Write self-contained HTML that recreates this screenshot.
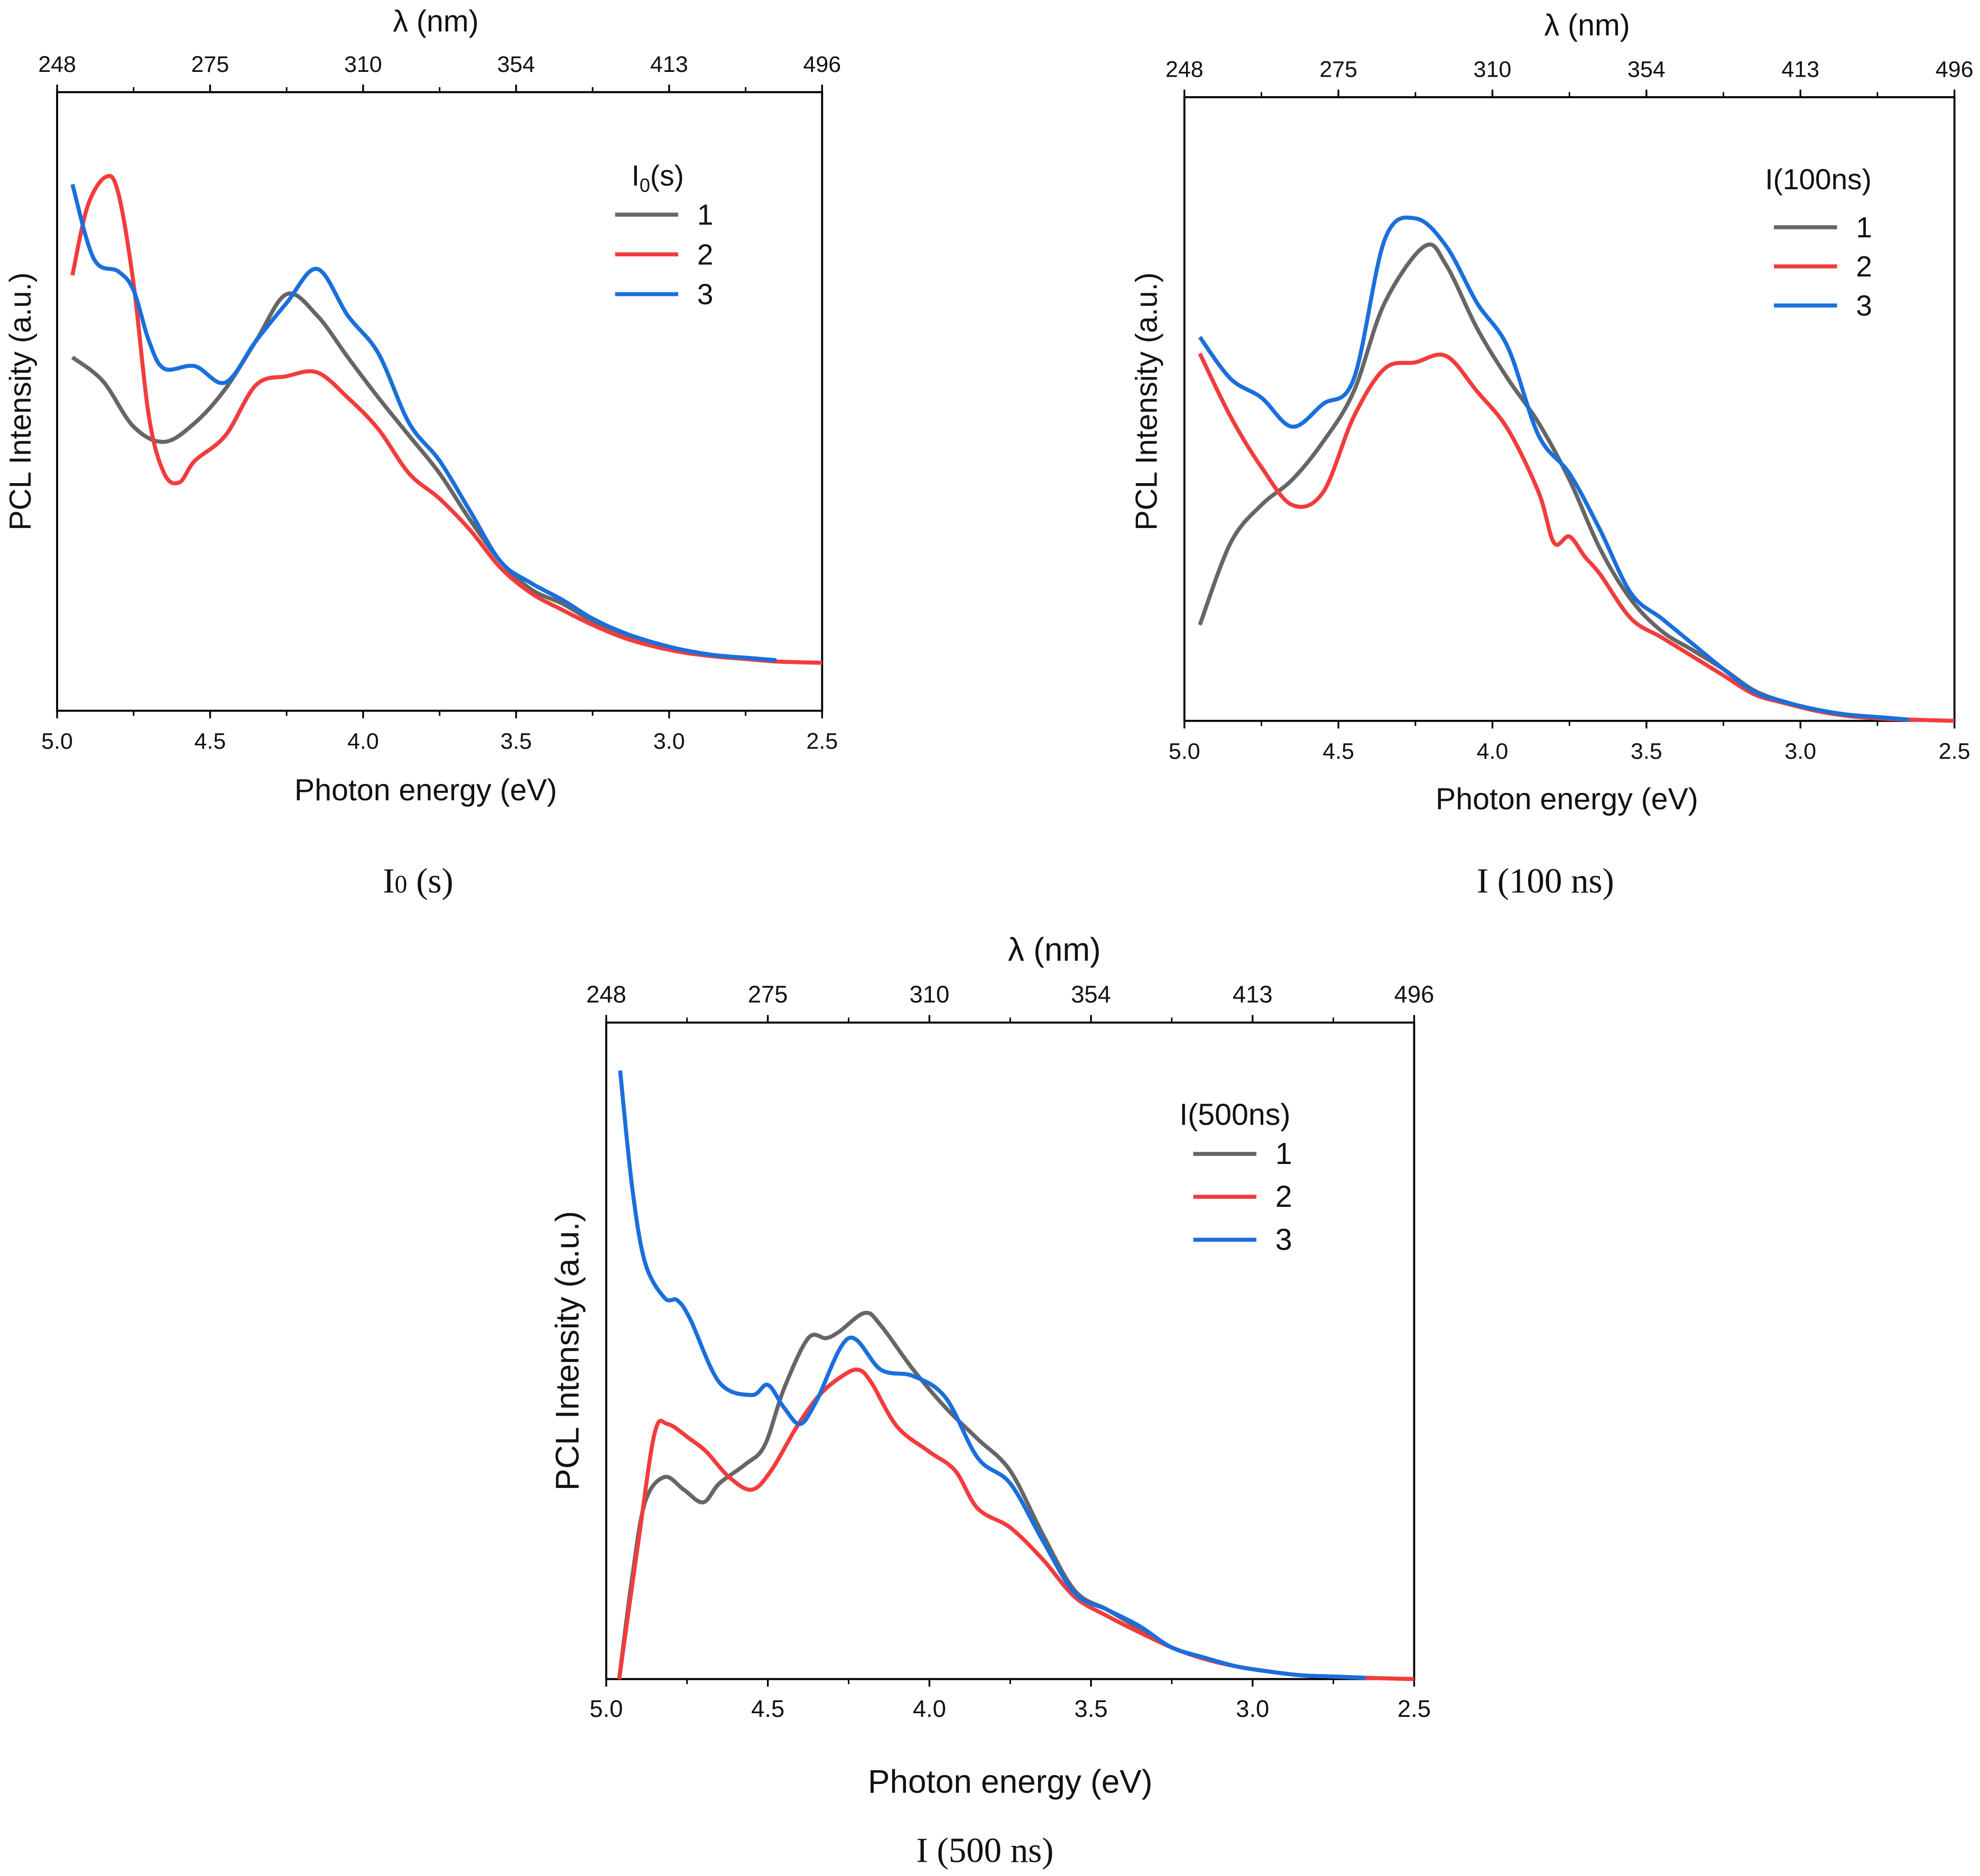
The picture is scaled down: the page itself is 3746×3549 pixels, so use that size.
<!DOCTYPE html>
<html><head><meta charset="utf-8"><style>
html,body{margin:0;padding:0;background:#fff}
svg{display:block}
text{font-family:"Liberation Sans",sans-serif;fill:#111}
.cap{font-family:"Liberation Serif",serif;font-size:28px}
</style></head><body>
<svg id="chart" width="3746" height="3549" viewBox="0 0 1568 1486" xmlns="http://www.w3.org/2000/svg"></svg>
<script>
// Panel A: I0(s)
const aGrayE=[4.95,4.85,4.75,4.65,4.55,4.45,4.35,4.25,4.15,4.05,3.95,3.85,3.75,3.65,3.55,3.45,3.35,3.25,3.15,3.05,2.95,2.85,2.75,2.65];
const aGrayV=[280,261,225,213,228,255,293,330,313,280,248,218,188,151,118,96,85,71,60,53,48,44,42,40];
const aRedE=[4.95,4.90,4.84,4.80,4.75,4.70,4.65,4.60,4.55,4.45,4.35,4.25,4.15,4.05,3.95,3.85,3.75,3.65,3.55,3.45,3.35,3.25,3.15,3.05,2.95,2.85,2.75,2.65,2.5];
const aRedV=[345,400,423,410,338,233,188,181,198,218,258,265,268,248,223,188,168,143,113,93,80,68,58,51,46,43,41,39,38];
const aBlueE=[4.95,4.88,4.80,4.75,4.70,4.65,4.55,4.45,4.35,4.25,4.15,4.05,3.95,3.85,3.75,3.65,3.55,3.45,3.35,3.25,3.15,3.05,2.95,2.85,2.75,2.65];
const aBlueV=[417,358,348,333,293,271,273,260,293,323,350,313,283,228,198,158,118,101,88,73,62,54,48,44,42,40];
// Panel B: I(100ns)
const bGrayE=[4.95,4.85,4.75,4.65,4.55,4.45,4.35,4.22,4.15,4.05,3.95,3.85,3.75,3.65,3.55,3.45,3.35,3.25,3.15,3.05,2.95,2.85,2.75,2.65];
const bGrayV=[76,141,171,191,221,261,331,376,361,311,271,236,191,136,96,71,56,41,24,15,9,5,3,1];
const bRedE=[4.95,4.85,4.75,4.65,4.55,4.45,4.35,4.25,4.15,4.05,3.95,3.85,3.80,3.75,3.70,3.65,3.55,3.45,3.35,3.25,3.15,3.05,2.95,2.85,2.75,2.65,2.5];
const bRedV=[291,241,201,171,181,241,279,284,289,261,231,181,141,146,130,116,81,66,51,36,21,14,8,4,2,1,0];
const bBlueE=[4.95,4.85,4.75,4.65,4.55,4.45,4.35,4.25,4.15,4.05,3.95,3.85,3.75,3.65,3.55,3.45,3.35,3.25,3.15,3.05,2.95,2.85,2.75,2.65];
const bBlueV=[304,271,256,233,251,271,381,398,376,331,296,226,196,151,101,81,61,41,23,15,9,5,3,1];
// Panel C: I(500ns)
const cGrayE=[4.96,4.92,4.88,4.82,4.76,4.70,4.65,4.57,4.51,4.45,4.375,4.32,4.28,4.20,4.15,4.05,3.95,3.85,3.75,3.65,3.55,3.45,3.35,3.25,3.15,3.05,2.95,2.85,2.75,2.65];
const cGrayV=[0,80,140,160,150,140,155,170,185,230,270,270,275,290,280,245,215,190,165,115,70,55,40,25,17,10,6,3,2,1];
const cRedE=[4.96,4.90,4.85,4.81,4.74,4.69,4.62,4.55,4.49,4.41,4.34,4.27,4.22,4.18,4.10,4.00,3.92,3.85,3.75,3.65,3.55,3.45,3.35,3.25,3.15,3.05,2.95,2.85,2.75,2.65,2.5];
const cRedV=[0,110,195,202,190,180,160,150,165,200,225,240,245,235,200,180,165,135,120,95,65,50,37,25,16,10,6,3,2,1,0];
const cBlueE=[4.957,4.92,4.88,4.82,4.78,4.74,4.65,4.55,4.50,4.45,4.40,4.35,4.25,4.15,4.05,3.95,3.85,3.75,3.65,3.55,3.45,3.35,3.25,3.15,3.05,2.95,2.85,2.75,2.65];
const cBlueV=[482,390,330,302,300,285,235,225,233,215,202,220,270,245,240,223,175,155,110,68,55,42,25,17,10,6,3,2,1];
const xTicks=[5.0,4.5,4.0,3.5,3.0,2.5];
const xTickLabels=["5.0","4.5","4.0","3.5","3.0","2.5"];
const topTickLabels=["248","275","310","354","413","496"];

const NS="http://www.w3.org/2000/svg";
const svg=document.getElementById('chart');
function mk(tag,attrs,parent,txt){const e=document.createElementNS(NS,tag);for(const k in attrs)e.setAttribute(k,attrs[k]);if(txt!==undefined)e.textContent=txt;(parent||svg).appendChild(e);return e;}
function smooth(p){let d=`M${p[0][0]},${p[0][1]}`;for(let i=0;i<p.length-1;i++){const p0=p[i-1]||p[i],p1=p[i],p2=p[i+1],p3=p[i+2]||p2;const c1x=p1[0]+(p2[0]-p0[0])/6,c1y=p1[1]+(p2[1]-p0[1])/6,c2x=p2[0]-(p3[0]-p1[0])/6,c2y=p2[1]-(p3[1]-p1[1])/6;d+=` C${c1x},${c1y} ${c2x},${c2y} ${p2[0]},${p2[1]}`;}return d;}
const COL={gray:'#666666',red:'#f23c3c',blue:'#1a6fdc'};
function panel(id,b,series,leg,lab,cap){
  const g=mk('g',{});
  
  
  const X=e=>b.x0+(5-e)/2.5*(b.x1-b.x0);
  const Y=v=>b.y1-v*(b.y1-b.y0)/b.vmax;
  mk('rect',{x:b.x0,y:b.y0,width:b.x1-b.x0,height:b.y1-b.y0,fill:'none',stroke:'#000','stroke-width':1.6},g);
  xTicks.forEach((t,i)=>{
    const x=X(t);
    mk('line',{x1:x,x2:x,y1:b.y1,y2:b.y1+6,stroke:'#000','stroke-width':1.4},g);
    const tl=mk('text',{x:x,y:b.y1+30,'text-anchor':'middle','font-size':lab.tf},g,xTickLabels[i]);
    
    mk('line',{x1:x,x2:x,y1:b.y0,y2:b.y0-6,stroke:'#000','stroke-width':1.4},g);
    const tt=mk('text',{x:x,y:b.y0-16,'text-anchor':'middle','font-size':lab.tf},g,topTickLabels[i]);
    
    if(i<xTicks.length-1){const xm=X(t-0.25);
      mk('line',{x1:xm,x2:xm,y1:b.y1,y2:b.y1+4,stroke:'#000','stroke-width':1.2},g);
      mk('line',{x1:xm,x2:xm,y1:b.y0,y2:b.y0-4,stroke:'#000','stroke-width':1.2},g);}
  });
  const xl=mk('text',{x:lab.xx,y:lab.xy,'text-anchor':'middle','font-size':lab.f},g,'Photon energy (eV)');
  
  const yl=mk('text',{x:0,y:0,'text-anchor':'middle','font-size':lab.f,transform:`translate(${lab.yx},${lab.yy}) rotate(-90)`},g,'PCL Intensity (a.u.)');
  
  const tl=mk('text',{x:lab.tx,y:lab.ty,'text-anchor':'middle','font-size':lab.f},g,'λ (nm)');
  
  series.forEach(s=>{
    const pts=s.e.map((e,i)=>[X(e),Y(s.v[i])]);
    const p=mk('path',{d:smooth(pts),fill:'none',stroke:COL[s.c],'stroke-width':3.2,'stroke-linejoin':'round'},g);
    
  });
  const lt=mk('text',{x:leg.x,y:leg.y,'font-size':lab.lf},g);
  
  lt.innerHTML=leg.title;
  ['gray','red','blue'].forEach((c,i)=>{
    const yy=leg.ly+i*leg.dy;
    const ln=mk('line',{x1:leg.lx,x2:leg.lx+50,y1:yy,y2:yy,stroke:COL[c],'stroke-width':3.2},g);
    
    const t=mk('text',{x:leg.lx+65,y:yy+8,'font-size':lab.lf},g,String(i+1));
    
  });
  const c=mk('text',{x:cap.x,y:cap.y,'text-anchor':'middle',class:'cap'},g);
  
  c.innerHTML=cap.t;
}
panel('panel-i0',{x0:45,x1:651,y0:73,y1:563,vmax:490},
 [{n:'1',c:'gray',e:aGrayE,v:aGrayV},{n:'2',c:'red',e:aRedE,v:aRedV},{n:'3',c:'blue',e:aBlueE,v:aBlueV}],
 {x:500,y:147,title:'I<tspan font-size="15" dy="5">0</tspan><tspan dy="-5">(s)</tspan>',lx:487,ly:170,dy:31.5},
 {xx:337,xy:634,yx:24,yy:318,tx:345,ty:25,f:24,tf:18,lf:23},{x:331,y:707,t:'I<tspan font-size="20">0</tspan> (s)'});
panel('panel-i100',{x0:938,x1:1548,y0:77,y1:571,vmax:494},
 [{n:'1',c:'gray',e:bGrayE,v:bGrayV},{n:'2',c:'red',e:bRedE,v:bRedV},{n:'3',c:'blue',e:bBlueE,v:bBlueV}],
 {x:1398,y:150,title:'I(100ns)',lx:1405,ly:180,dy:31},
 {xx:1241,xy:641,yx:916,yy:318,tx:1257,ty:28,f:24,tf:18,lf:23},{x:1224,y:707,t:'I (100 ns)'});
panel('panel-i500',{x0:480,x1:1120,y0:810,y1:1330,vmax:520},
 [{n:'1',c:'gray',e:cGrayE,v:cGrayV},{n:'2',c:'red',e:cRedE,v:cRedV},{n:'3',c:'blue',e:cBlueE,v:cBlueV}],
 {x:934,y:891,title:'I(500ns)',lx:945,ly:914,dy:34},
 {xx:800,xy:1420,yx:458,yy:1070,tx:835,ty:761,f:26,tf:19,lf:24},{x:780,y:1475,t:'I (500 ns)'});
</script>
</body></html>
